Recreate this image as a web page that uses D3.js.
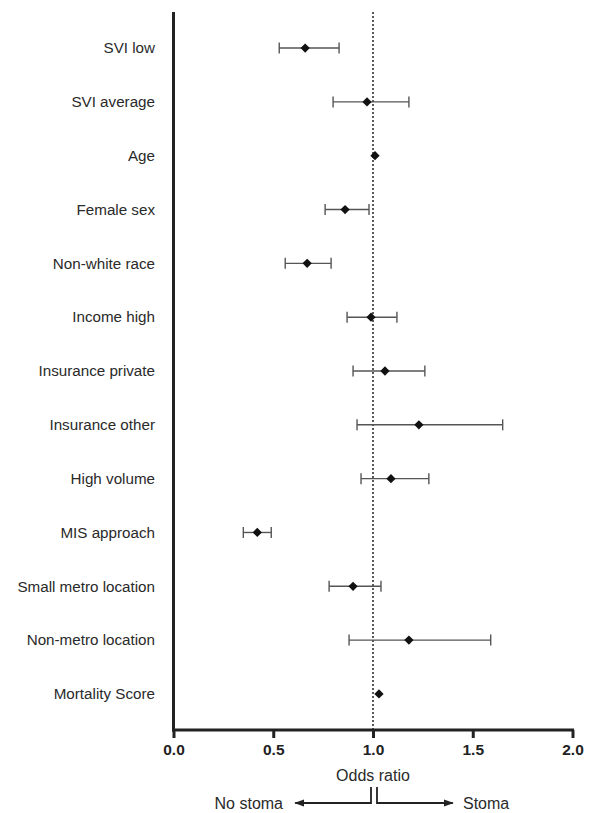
<!DOCTYPE html>
<html>
<head>
<meta charset="utf-8">
<script src="https://cdn.jsdelivr.net/npm/d3@7"></script>
<style>
  body { margin: 0; background: #fff; }
  svg { display: block; font-family: "Liberation Sans", Arial, sans-serif; }
</style>
</head>
<body>
<svg id="canvas" width="591" height="813"></svg>
<script>
// Data
let labels = ['SVI low', 'SVI average', 'Age', 'Female sex', 'Non-white race', 'Income high',
  'Insurance private', 'Insurance other', 'High volume', 'MIS approach',
  'Small metro location', 'Non-metro location', 'Mortality Score']
let oddsRatio = [0.66, 0.97, 1.01, 0.86, 0.67, 0.99, 1.06, 1.23, 1.09, 0.42, 0.90, 1.18, 1.03]
let ciLow  = [0.53, 0.80, null, 0.76, 0.56, 0.87, 0.90, 0.92, 0.94, 0.35, 0.78, 0.88, null]
let ciHigh = [0.83, 1.18, null, 0.98, 0.79, 1.12, 1.26, 1.65, 1.28, 0.49, 1.04, 1.59, null]
let xTicks = [0, 0.5, 1, 1.5, 2]

let canvas = d3.select('#canvas')

let plotLeft = 173.5, plotRight = 572.5, plotTop = 12, plotBottom = 730

let x = d3.scaleLinear().domain([0, 2]).range([plotLeft, plotRight])
let y = d3.scalePoint().domain(labels).range([plotTop, plotBottom]).padding(0.67)

let ink = '#222'
let textInk = '#2a2a2a'

// reference line at OR = 1
canvas.append('line')
  .attr('x1', x(1)).attr('x2', x(1))
  .attr('y1', plotTop).attr('y2', plotBottom)
  .attr('stroke', '#333')
  .attr('stroke-width', 1.6)
  .attr('stroke-dasharray', '2,2')

// x axis
let xAxis = canvas.append('g')
  .attr('transform', `translate(0,${plotBottom})`)
  .call(d3.axisBottom(x).tickValues(xTicks).tickFormat(d3.format('.1f')).tickSize(8).tickPadding(6))
xAxis.select('.domain').attr('stroke', ink).attr('stroke-width', 3).attr('d', `M${plotLeft - 1.5},0H${plotRight + 1.5}`)
xAxis.selectAll('.tick line').attr('stroke', ink).attr('stroke-width', 3)
xAxis.selectAll('.tick text')
  .attr('fill', ink)
  .style('font-size', '15.5px')
  .style('font-weight', 'bold')
  .style('font-family', '"Liberation Sans", Arial, sans-serif')

// y axis (line only, labels drawn separately)
canvas.append('line')
  .attr('x1', plotLeft).attr('x2', plotLeft)
  .attr('y1', plotTop).attr('y2', plotBottom + 1.5)
  .attr('stroke', ink)
  .attr('stroke-width', 3)

canvas.selectAll('.lab')
  .data(labels)
  .enter()
  .append('text')
  .attr('class', 'lab')
  .attr('x', 155)
  .attr('y', d => y(d))
  .attr('dy', '0.35em')
  .attr('text-anchor', 'end')
  .attr('fill', textInk)
  .style('font-size', '15.2px')
  .text(d => d)

// error bars
let rows = labels.map((d, i) => ({ label: d, or: oddsRatio[i], lo: ciLow[i], hi: ciHigh[i] }))
let withCi = rows.filter(d => d.lo != null)

let bars = canvas.selectAll('.ci')
  .data(withCi)
  .enter()
  .append('g')
  .attr('class', 'ci')
  .attr('stroke', '#555')
  .attr('stroke-width', 1.4)

bars.append('line')
  .attr('x1', d => x(d.lo)).attr('x2', d => x(d.hi))
  .attr('y1', d => y(d.label)).attr('y2', d => y(d.label))
bars.append('line')
  .attr('x1', d => x(d.lo)).attr('x2', d => x(d.lo))
  .attr('y1', d => y(d.label) - 5.5).attr('y2', d => y(d.label) + 5.5)
bars.append('line')
  .attr('x1', d => x(d.hi)).attr('x2', d => x(d.hi))
  .attr('y1', d => y(d.label) - 5.5).attr('y2', d => y(d.label) + 5.5)

// diamonds
canvas.selectAll('.pt')
  .data(rows)
  .enter()
  .append('path')
  .attr('class', 'pt')
  .attr('d', d3.symbol().type(d3.symbolDiamond2).size(55))
  .attr('transform', d => `translate(${x(d.or)},${y(d.label)})`)
  .attr('fill', '#111')

// axis title
canvas.append('text')
  .attr('x', x(1))
  .attr('y', 781)
  .attr('text-anchor', 'middle')
  .attr('fill', textInk)
  .style('font-size', '16px')
  .text('Odds ratio')

// direction arrows
canvas.append('defs').append('marker')
  .attr('id', 'arrow')
  .attr('viewBox', '0 0 10 10')
  .attr('refX', 9).attr('refY', 5)
  .attr('markerWidth', 10).attr('markerHeight', 10)
  .attr('markerUnits', 'userSpaceOnUse')
  .attr('orient', 'auto')
  .append('path')
  .attr('d', 'M0,1.5L10,5L0,8.5Z')
  .attr('fill', ink)

let arrowY = 803
canvas.append('path')
  .attr('d', `M${x(0.99)},787V${arrowY}H${x(0.61)}`)
  .attr('fill', 'none').attr('stroke', ink).attr('stroke-width', 1.8)
  .attr('marker-end', 'url(#arrow)')
canvas.append('path')
  .attr('d', `M${x(1.02)},787V${arrowY}H${x(1.4)}`)
  .attr('fill', 'none').attr('stroke', ink).attr('stroke-width', 1.8)
  .attr('marker-end', 'url(#arrow)')

canvas.append('text')
  .attr('x', 283).attr('y', arrowY).attr('dy', '0.35em')
  .attr('text-anchor', 'end')
  .attr('fill', textInk)
  .style('font-size', '16px')
  .text('No stoma')
canvas.append('text')
  .attr('x', 463).attr('y', arrowY).attr('dy', '0.35em')
  .attr('fill', textInk)
  .style('font-size', '16px')
  .text('Stoma')
</script>
</body>
</html>
